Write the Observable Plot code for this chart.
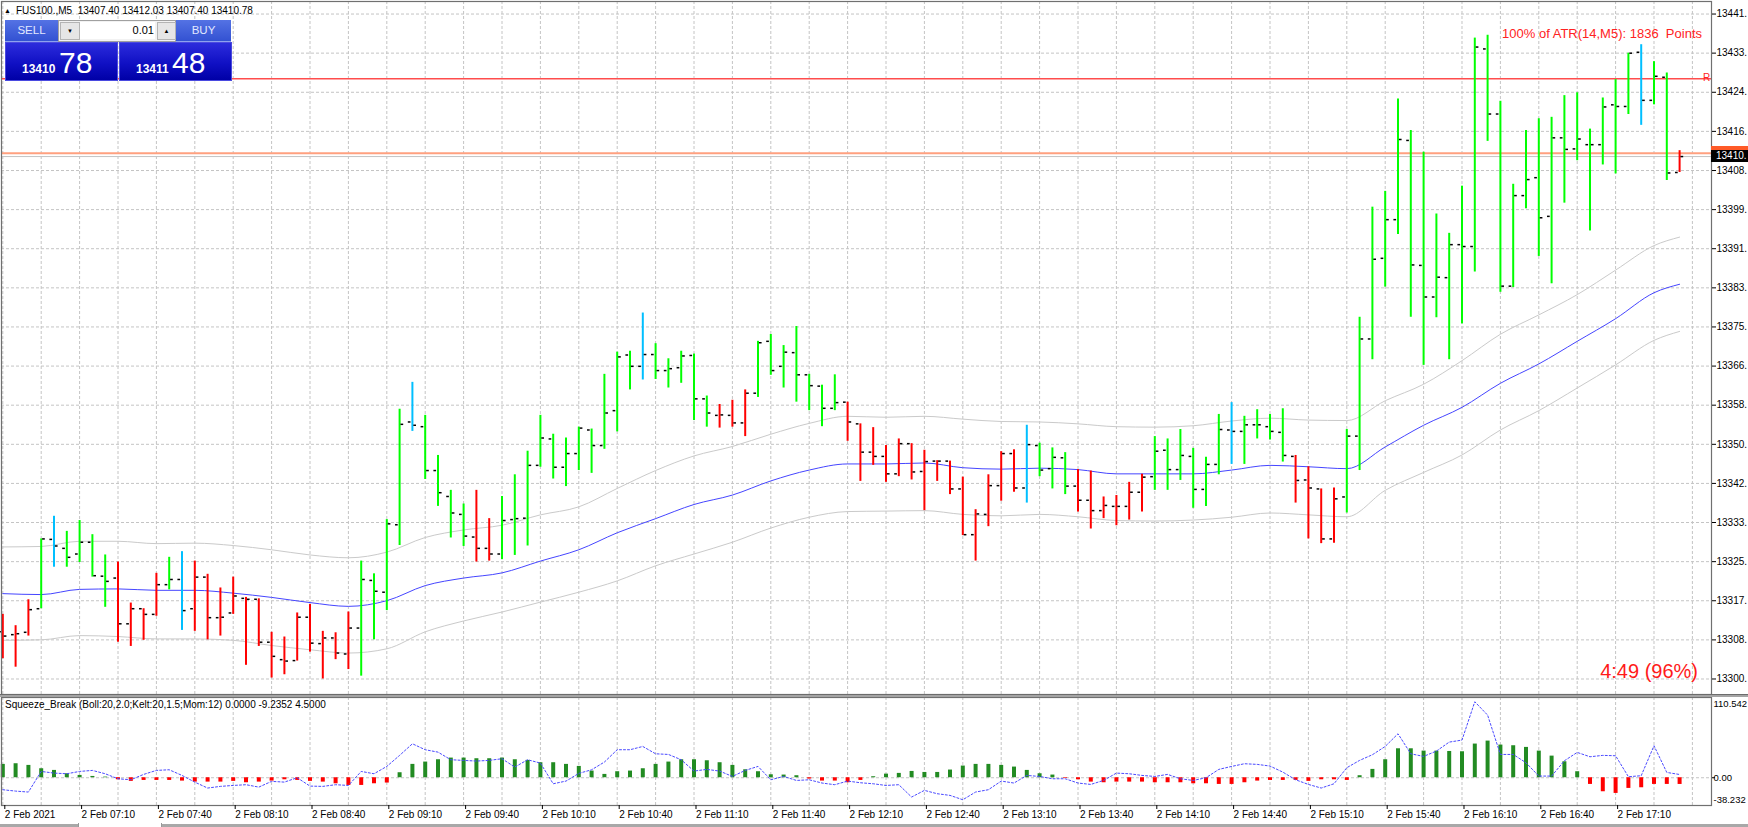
<!DOCTYPE html>
<html><head><meta charset="utf-8">
<script src="https://cdn.jsdelivr.net/npm/d3@7"></script>
<script src="https://cdn.jsdelivr.net/npm/@observablehq/plot@0.6"></script>
<style>
html,body{margin:0;padding:0;background:#fff;}
#wrap{position:relative;width:1748px;height:827px;overflow:hidden;background:#fff;font-family:"Liberation Sans",Arial,sans-serif;color:#000;}
#wrap svg{position:absolute;left:0;}
.abs{position:absolute;line-height:1;white-space:pre;}
</style></head><body><div id="wrap"></div>
<script>
// ---------- data (M5 bars, 2 Feb 2021 06:40 .. 17:35) ----------
const open = [13310.0,13309.4,13309.9,13314.9,13329.6,13327.7,13326.5,13329.0,13321.8,13321.4,
13311.7,13314.9,13313.7,13320.0,13321.1,13314.9,13321.6,13313.0,13314.0,13317.1,
13316.9,13307.8,13304.1,13303.9,13313.1,13307.5,13308.7,13305.3,13310.8,13320.9,
13318.4,13332.7,13354.5,13353.5,13344.2,13338.7,13334.9,13330.1,13327.7,13326.5,
13333.8,13334.1,13345.3,13350.9,13344.9,13347.8,13352.8,13349.5,13356.9,13368.7,
13366.3,13368.8,13365.4,13366.0,13368.6,13359.4,13355.9,13355.9,13354.3,13360.6,
13371.6,13366.3,13369.2,13364.5,13362.1,13357.4,13358.7,13354.1,13348.1,13347.2,
13343.5,13349.9,13344.0,13346.2,13346.2,13340.3,13330.6,13334.9,13341.0,13347.8,
13340.5,13349.5,13344.6,13346.9,13340.9,13337.9,13335.7,13336.6,13336.6,13339.6,
13342.9,13348.5,13344.4,13347.2,13340.2,13345.5,13352.8,13352.5,13353.9,13353.5,
13352.3,13347.2,13342.2,13340.3,13329.7,13338.6,13351.5,13372.1,13389.2,13397.4,
13414.2,13387.7,13381.0,13385.1,13392.1,13391.7,13433.6,13419.8,13383.3,13402.5,
13406.3,13398.1,13414.75,13412.4,13413.3,13413.3,13421.75,13421.4,13432.9,13422.7,
13427.6,13407.40];
const high = [13313.7,13311.3,13316.8,13329.7,13334.5,13331.3,13333.6,13330.6,13326.3,13324.8,
13316.1,13314.9,13322.4,13325.8,13327.0,13325.0,13322.2,13319.3,13321.6,13317.3,
13317.0,13309.9,13308.9,13314.0,13315.8,13310.1,13309.8,13314.2,13325.0,13322.3,
13333.8,13357.2,13362.9,13355.9,13347.4,13340.0,13337.1,13340.0,13334.0,13338.7,
13343.3,13348.3,13355.9,13351.9,13351.1,13353.4,13353.0,13364.6,13369.3,13369.5,
13377.6,13371.1,13367.9,13369.5,13368.9,13360.0,13358.2,13359.1,13361.3,13371.6,
13373.05,13370.7,13374.75,13364.6,13362.3,13364.5,13358.7,13354.1,13353.3,13349.5,
13350.9,13349.9,13348.5,13346.3,13346.2,13342.8,13335.9,13343.3,13348.2,13348.6,
13353.8,13350.0,13349.0,13348.0,13344.4,13344.1,13338.6,13338.9,13341.7,13343.4,
13351.4,13350.9,13352.9,13348.9,13347.0,13356.1,13358.6,13355.7,13357.1,13356.1,
13357.3,13347.4,13345.0,13340.3,13340.5,13352.9,13376.7,13400.05,13403.4,13423.0,
13416.3,13411.7,13398.6,13394.5,13404.5,13435.9,13436.5,13422.5,13404.9,13416.3,
13418.8,13419.1,13423.7,13424.3,13416.6,13423.2,13427.1,13432.7,13434.5,13430.9,
13428.5,13412.03];
const low = [13304.3,13302.5,13309.1,13314.9,13323.7,13323.7,13324.7,13321.6,13315.2,13307.8,
13306.9,13308.2,13313.3,13318.9,13310.3,13310.1,13308.3,13309.1,13313.7,13302.9,
13306.9,13300.2,13300.9,13303.8,13305.7,13300.0,13304.1,13302.0,13300.6,13308.3,
13314.5,13328.3,13352.5,13342.3,13336.6,13329.9,13328.1,13324.8,13325.0,13325.3,
13326.2,13328.2,13344.9,13342.4,13340.8,13344.2,13343.6,13348.7,13352.4,13361.3,
13363.4,13363.5,13361.7,13362.7,13354.8,13353.4,13353.2,13353.4,13351.4,13359.7,
13364.4,13361.7,13358.7,13356.9,13353.5,13356.9,13350.4,13341.9,13345.3,13341.7,
13342.9,13342.2,13335.7,13341.9,13339.1,13330.4,13325.0,13332.3,13337.7,13339.6,
13337.3,13342.9,13340.3,13339.1,13335.4,13331.8,13334.0,13332.5,13333.7,13335.4,
13340.0,13340.0,13342.1,13336.2,13336.6,13343.3,13345.5,13345.5,13350.9,13350.7,
13346.0,13337.3,13329.7,13328.7,13328.8,13335.2,13344.2,13367.7,13383.1,13394.25,
13376.7,13366.5,13376.6,13367.7,13375.3,13386.3,13414.0,13382.0,13383.0,13399.7,
13389.6,13383.8,13400.9,13409.9,13395.0,13409.0,13407.1,13419.7,13417.4,13421.75,
13405.7,13407.40];
const close = [13309.1,13309.6,13314.7,13329.7,13328.2,13325.8,13329.0,13321.9,13320.7,13311.7,
13314.9,13313.7,13320.0,13321.1,13314.5,13321.6,13313.0,13313.1,13317.6,13316.9,
13307.8,13304.8,13303.8,13313.1,13307.6,13308.7,13305.5,13310.8,13321.1,13318.6,
13332.9,13354.0,13353.8,13344.2,13339.5,13335.2,13330.3,13327.7,13326.5,13333.6,
13334.0,13345.3,13351.1,13344.9,13347.8,13353.2,13349.5,13356.4,13368.3,13366.3,
13368.8,13365.4,13365.8,13368.5,13359.4,13356.4,13356.0,13354.3,13360.6,13371.3,
13365.4,13369.3,13364.5,13362.2,13357.4,13358.6,13354.5,13348.1,13347.2,13343.5,
13349.9,13343.9,13346.1,13346.2,13340.3,13330.6,13335.0,13341.0,13347.8,13340.5,
13349.7,13344.3,13347.0,13340.9,13337.9,13335.7,13336.8,13336.6,13339.6,13342.8,
13348.3,13344.4,13347.4,13340.2,13345.5,13352.9,13352.5,13353.9,13353.9,13352.5,
13347.4,13342.1,13340.5,13329.7,13338.2,13351.5,13372.1,13389.0,13397.4,13414.4,
13387.8,13381.0,13385.2,13392.1,13391.7,13434.0,13419.8,13383.3,13402.5,13405.9,
13397.8,13414.75,13412.3,13414.5,13413.3,13421.3,13421.4,13432.7,13422.7,13427.8,
13407.3,13410.78];
// bar colour codes: g = lime, r = red, b = deep sky blue
const barColorCodes = ("rrr"+"gb"+"gggg"+"rrrr"+"gb"+"rrrrrrrrrrrrr"+"gggg"+"b"+"gggg"+"rr"+
  "ggggggggggg"+"b"+"ggggg"+"rrr"+"ggggggg"+"rrrrrrrrrrrrrr"+"b"+"ggg"+"rrrrrr"+"gggggg"+"b"+
  "gggg"+"rrrr"+"ggggggggggggggggggggggg"+"b"+"gg"+"r").split("");

// moving average + bands, read at every third bar
const maIdx = [0,3,6,9,12,15,18,21,24,27,30,33,36,39,42,45,48,51,54,57,60,63,66,69,72,75,78,81,84,87,90,93,96,99,102,105,108,111,114,117,120,123,126,129,131];
const maUpper = [13328.0,13328.1,13329.2,13329.2,13328.7,13328.8,13328.3,13327.4,13326.3,13325.7,13326.9,13330.0,13331.6,13332.6,13334.8,13336.5,13340.4,13344.2,13347.3,13349.3,13351.9,13354.2,13355.7,13355.5,13355.7,13355.1,13354.6,13354.5,13354.1,13353.5,13353.4,13353.7,13354.7,13355.3,13354.9,13354.8,13359.0,13362.5,13367.5,13373.1,13377.2,13381.5,13386.7,13391.9,13393.7];
const maMid = [13318.1,13317.9,13319.0,13319.1,13318.8,13318.8,13318.2,13317.3,13316.2,13315.4,13316.6,13319.8,13321.4,13322.5,13325.0,13327.4,13331.0,13334.0,13337.0,13339.0,13342.0,13344.3,13345.6,13345.6,13345.8,13344.8,13344.5,13344.7,13344.4,13343.5,13343.5,13343.5,13344.3,13345.3,13345.0,13344.6,13349.2,13353.8,13357.6,13362.7,13366.8,13371.6,13376.4,13381.9,13383.7];
const maLower = [13308.2,13308.3,13309.2,13309.0,13308.5,13308.5,13308.2,13307.1,13306.2,13305.5,13306.4,13310.0,13312.3,13314.2,13316.3,13318.4,13320.8,13324.0,13326.5,13329.0,13332.0,13334.3,13335.5,13335.6,13335.7,13334.9,13334.6,13334.9,13334.4,13333.6,13333.5,13333.7,13334.3,13335.2,13334.8,13334.4,13340.0,13343.8,13347.5,13352.8,13356.9,13361.7,13366.6,13371.8,13373.7];

// Squeeze_Break indicator
const squeezeHist = [18.4,19.3,17.0,12.4,10.1,5.5,3.2,1.8,0.9,-2.8,
-5.0,-3.7,-3.7,-3.7,-4.6,-6.0,-6.0,-6.0,-5.0,-6.9,
-6.0,-4.6,-2.8,-3.7,-5.0,-6.0,-8.3,-10.6,-10.6,-8.3,
-7.3,6.9,18.4,21.6,24.8,27.1,27.1,26.2,26.2,27.1,
24.8,23.9,20.7,20.7,18.4,15.6,9.2,4.6,8.3,9.2,
12.4,18.4,21.6,24.8,24.8,23.4,20.7,17.0,11.0,8.3,
4.1,3.7,2.8,-1.8,-4.6,-4.6,-6.9,-3.7,1.4,5.0,
6.0,8.7,7.3,7.3,10.6,16.1,18.4,18.4,17.0,14.7,
10.1,5.5,3.7,-0.9,-2.8,-6.0,-6.9,-6.0,-6.0,-6.0,
-6.9,-6.9,-6.9,-8.3,-8.3,-9.2,-9.2,-6.9,-4.6,-3.7,
-3.7,-3.7,-5.0,-2.8,-2.8,-3.7,2.8,11.5,24.8,39.9,
39.9,36.7,36.7,36.2,35.8,46.4,50.5,45.0,44.1,41.8,
36.7,29.8,22.0,8.3,-9.2,-19.3,-21.6,-14.7,-13.8,-9.2,
-9.2,-9.2352];
const squeezeMom = [-16.5,-18.4,-19.7,8.7,6.4,5.5,8.7,10.1,5.5,-1.4,
-2.8,4.6,10.1,11.0,3.2,-6.0,-14.2,-11.9,-10.6,-9.6,
-12.9,-5.0,-6.0,0.0,-11.5,-11.9,-9.6,-10.6,8.7,5.5,
15.6,30.8,46.8,38.6,35.3,24.8,23.9,23.0,23.9,26.2,
14.7,24.8,20.2,-8.3,-4.6,6.0,11.0,21.6,38.6,38.6,
43.1,33.0,32.1,24.8,9.2,11.5,9.2,1.8,10.1,15.6,
-2.8,1.8,-3.7,-2.8,-7.3,-9.6,-4.6,-6.9,-8.3,-10.6,
-9.6,-26.6,-17.4,-22.0,-24.3,-30.3,-19.7,-16.5,-4.6,-7.3,
3.2,1.8,-1.4,-1.4,-7.3,-9.2,-3.7,6.4,5.5,3.2,
1.8,4.6,-1.4,-3.7,0.0,11.5,15.6,19.3,18.4,16.1,
7.8,-2.8,-9.2,-14.2,-8.3,13.8,23.9,31.7,43.1,60.6,
33.0,29.4,36.7,49.1,51.9,104.7,86.3,32.1,32.1,20.7,
2.3,2.3,23.4,34.9,28.9,30.8,30.3,1.4,2.8,44.1,
7.3,4.5];

// horizontal price levels
const resistanceLevel = 13427.3;
const askPrice = 13411.48;
const bidPrice = 13410.78;

// axis ticks and labels (the price labels are shown cut at the window edge, as in the terminal)
const priceGrid = [13300.00,13308.29,13316.59,13324.88,13333.18,13341.47,13349.76,13358.06,13366.35,13374.65,13382.94,13391.24,13399.53,13407.82,13416.12,13424.41,13432.71,13441.00];
const priceLabels = ["13300.","13308.","13317.","13325.","13333.","13342.","13350.","13358.","13366.","13375.","13383.","13391.","13399.","13408.","13416.","13424.","13433.","13441."];
const timeTickBars = [0,6,12,18,24,30,36,42,48,54,60,66,72,78,84,90,96,102,108,114,120,126];
const timeLabels = ["2 Feb 2021","2 Feb 07:10","2 Feb 07:40","2 Feb 08:10","2 Feb 08:40","2 Feb 09:10","2 Feb 09:40","2 Feb 10:10","2 Feb 10:40","2 Feb 11:10","2 Feb 11:40","2 Feb 12:10","2 Feb 12:40","2 Feb 13:10","2 Feb 13:40","2 Feb 14:10","2 Feb 14:40","2 Feb 15:10","2 Feb 15:40","2 Feb 16:10","2 Feb 16:40","2 Feb 17:10"];
const gridBars = [0,3,6,9,12,15,18,21,24,27,30,33,36,39,42,45,48,51,54,57,60,63,66,69,72,75,78,81,84,87,90,93,96,99,102,105,108,111,114,117,120,123,126,129,132];
const oscTicks = [110.542, 0, -38.232];
const oscLabels = ["110.542","0.00","-38.232"];

// ---------- build ----------
const colorOf = {g:"#00ff00", r:"#ff0000", b:"#00bfff"};
const bars = open.map((o,i)=>({n:i, open:o, high:high[i], low:low[i], close:close[i], color:colorOf[barColorCodes[i]]}));
const maRows = maIdx.map((n,i)=>({n, upper:maUpper[i], mid:maMid[i], lower:maLower[i]}));
const histRows = squeezeHist.map((v,i)=>({n:i, v, color: v>=0 ? "#228b22" : "#ff0000"}));
const momRows = squeezeMom.map((v,i)=>({n:i, v}));
const priceLabelMap = new Map(priceGrid.map((p,i)=>[p, priceLabels[i]]));
const timeLabelMap = new Map(timeTickBars.map((b,i)=>[b, timeLabels[i]]));
const oscLabelMap = new Map(oscTicks.map((t,i)=>[t, oscLabels[i]]));

const W = 1748;
const xDomain = [-0.1016, 133.4922];
const gridStyle = {stroke:"#c4c4c4", strokeOpacity:1, strokeDasharray:"3,2"};
const plotStyle = {background:"transparent", fontFamily:"'Liberation Sans', Arial, sans-serif", fontSize:"10px", color:"#000", overflow:"hidden"};

const pricePlot = Plot.plot({
  width: W, height: 697,
  marginLeft: 1, marginRight: 37, marginTop: 1, marginBottom: 3,
  style: plotStyle,
  x: {domain: xDomain, axis: null},
  y: {domain: [13296.71, 13443.66]},
  marks: [
    Plot.gridY(priceGrid, gridStyle),
    Plot.gridX(gridBars, gridStyle),
    Plot.line(maRows, {x:"n", y:"upper", stroke:"#cacaca", strokeWidth:1, curve:"monotone-x"}),
    Plot.line(maRows, {x:"n", y:"lower", stroke:"#cacaca", strokeWidth:1, curve:"monotone-x"}),
    Plot.line(maRows, {x:"n", y:"mid", stroke:"#4545ff", strokeWidth:1, curve:"monotone-x"}),
    Plot.ruleY([resistanceLevel], {stroke:"#ff4d4d", strokeWidth:1.5}),
    Plot.ruleY([askPrice], {stroke:"#ffa07f", strokeWidth:2}),
    Plot.ruleY([bidPrice], {stroke:"#c4c4c4", strokeWidth:1}),
    Plot.ruleX(bars, {x:"n", y1:"low", y2:"high", stroke:"color", strokeWidth:2}),
    Plot.ruleY(bars, {y:"open", x1:d=>d.n-0.32, x2:d=>d.n-0.11, stroke:"#000", strokeWidth:1.5}),
    Plot.ruleY(bars, {y:"close", x1:d=>d.n+0.11, x2:d=>d.n+0.32, stroke:"#000", strokeWidth:1.5}),
    Plot.frame({stroke:"#707070", strokeWidth:1.2}),
    Plot.axisY(priceGrid, {anchor:"right", label:null, tickSize:4, tickPadding:1, textAnchor:"start", tickFormat:d=>priceLabelMap.get(d)})
  ]
});

const oscPlot = Plot.plot({
  width: W, height: 130,
  marginLeft: 1, marginRight: 37, marginTop: 0, marginBottom: 22,
  style: plotStyle,
  x: {domain: xDomain},
  y: {domain: [-38.232, 110.542]},
  marks: [
    Plot.gridX(gridBars, gridStyle),
    Plot.ruleY([0], gridStyle),
    Plot.ruleX(histRows, {x:"n", y1:0, y2:"v", stroke:"color", strokeWidth:4}),
    Plot.line(momRows, {x:"n", y:"v", stroke:"#4a4aff", strokeWidth:1, strokeDasharray:"2,2"}),
    Plot.frame({stroke:"#707070", strokeWidth:1.2}),
    Plot.axisX(timeTickBars, {anchor:"bottom", label:null, tickSize:4, tickPadding:1, textAnchor:"start", dx:2, tickFormat:d=>timeLabelMap.get(d)}),
    Plot.axisY([oscTicks[0]], {anchor:"right", label:null, tickSize:0, tickPadding:2, dy:6, fontSize:9.5, textAnchor:"start", tickFormat:d=>oscLabelMap.get(d)}),
    Plot.axisY([oscTicks[1]], {anchor:"right", label:null, tickSize:3, tickPadding:-1, fontSize:9.5, textAnchor:"start", tickFormat:d=>oscLabelMap.get(d)}),
    Plot.axisY([oscTicks[2]], {anchor:"right", label:null, tickSize:0, tickPadding:2, dy:-6, fontSize:9.5, textAnchor:"start", tickFormat:d=>oscLabelMap.get(d)})
  ]
});

const wrap = document.getElementById("wrap");
pricePlot.style.top = "0px";
oscPlot.style.top = "697px";
wrap.appendChild(pricePlot);
wrap.appendChild(oscPlot);

function addDiv(css, text){
  const d = document.createElement("div");
  d.className = "abs";
  d.style.cssText += css;
  if (text != null) d.textContent = text;
  wrap.appendChild(d);
  return d;
}

// panel separator and bottom strip
addDiv("left:0;top:694px;width:1748px;height:2px;background:#a4a4a4;border-top:1px solid #6c6c6c;");
addDiv("left:0;top:824px;width:1748px;height:3px;background:#a8a8a8;");
addDiv("left:78px;top:823px;width:82px;height:4px;background:#fff;border-left:1px solid #999;border-right:1px solid #999;");

// header
const last = open.length - 1;
addDiv("left:4px;top:7px;font-size:7px;", "\u25B2");
addDiv("left:16px;top:6px;font-size:10px;", `FUS100.,M5  ${open[last].toFixed(2)} ${high[last].toFixed(2)} ${low[last].toFixed(2)} ${close[last].toFixed(2)}`);

// one-click trading panel
const btn = "top:20px;height:21px;background:linear-gradient(#5472e4,#3352d2);color:#e2e8ff;font-size:11.5px;display:flex;align-items:center;justify-content:center;border-bottom:1px solid #8ea2ee;";
addDiv("left:5px;width:53px;" + btn, "SELL");
addDiv("left:176px;width:55px;" + btn, "BUY");
addDiv("left:58px;top:20px;width:116px;height:20px;background:#f2f2f2;border:1px solid #a0a0a0;");
addDiv("left:60px;top:22px;width:18px;height:16px;background:#e6e6e6;border:1px solid #b4b4b4;font-size:6px;display:flex;align-items:center;justify-content:center;", "\u25BC");
addDiv("left:80px;top:22px;width:75px;height:17px;background:#fff;");
addDiv("left:100px;top:25px;width:54px;font-size:11px;text-align:right;", "0.01");
addDiv("left:157px;top:22px;width:17px;height:16px;background:#e6e6e6;border:1px solid #b4b4b4;font-size:6px;display:flex;align-items:center;justify-content:center;", "\u25B2");
const qbox = "top:42px;height:37px;width:111px;background:linear-gradient(#2c2cdc,#1010c4 55%,#0000a6);border:1px solid #4a4ae0;";
addDiv("left:5px;" + qbox);
addDiv("left:119px;" + qbox);
const bidStr = bidPrice.toFixed(2), askStr = askPrice.toFixed(2);
addDiv("left:22px;top:62.5px;font-size:12px;font-weight:bold;color:#fff;", bidStr.slice(0,5));
addDiv("left:59px;top:48px;font-size:30px;color:#fff;", bidStr.slice(6));
addDiv("left:136px;top:62.5px;font-size:12px;font-weight:bold;color:#fff;", askStr.slice(0,5));
addDiv("left:172px;top:48px;font-size:30px;color:#fff;", askStr.slice(6));

// texts on chart
addDiv("right:46px;top:27px;font-size:13px;color:#ff2222;", "100% of ATR(14,M5): 1836  Points");
const yScale = pricePlot.scale("y");
const yRes = yScale.apply(resistanceLevel);
addDiv(`left:1703px;top:${yRes-5}px;font-size:10px;color:#ff2222;`, "R");
addDiv("right:50px;top:661px;font-size:20px;color:#ff1a1a;", "4:49 (96%)");
addDiv("left:5px;top:700px;font-size:10px;", "Squeeze_Break (Boll:20,2.0;Kelt:20,1.5;Mom:12) 0.0000 " + squeezeHist[last].toFixed(4) + " " + squeezeMom[last].toFixed(4));

// price labels on the axis (ask behind, bid on top); bid shown cut at the edge like the terminal
const yAsk = yScale.apply(askPrice), yBid = yScale.apply(bidPrice);
addDiv(`left:1711px;top:${yAsk-7}px;width:37px;height:13px;background:#ff5a28;`);
addDiv(`left:1711px;top:${yBid-6}px;width:37px;height:12px;background:#000;`);
addDiv(`left:1716px;top:${yBid-5}px;font-size:10px;color:#fff;`, bidStr.slice(0,6));
</script>
</body></html>
